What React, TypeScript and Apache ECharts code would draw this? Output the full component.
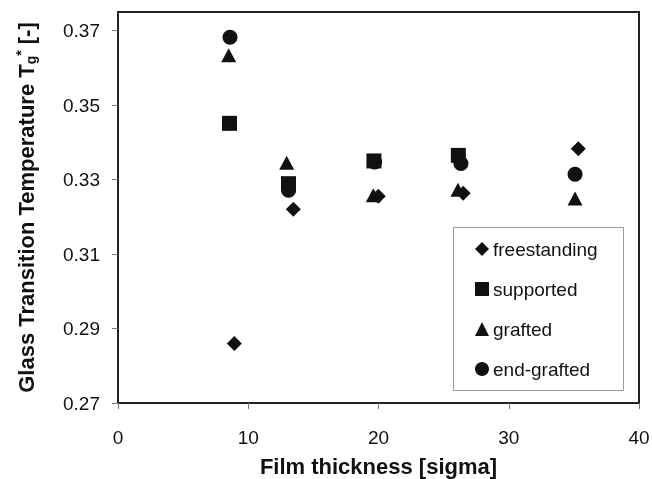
import React, { useEffect, useRef } from "react";
import * as echarts from "echarts";

const freestandingX = [8.93, 13.46, 19.98, 26.5, 35.34];
const freestandingY = [0.286, 0.322, 0.3255, 0.3263, 0.3383];
const supportedX = [8.56, 13.09, 19.65, 26.13];
const supportedY = [0.3451, 0.3289, 0.335, 0.3365];
const graftedX = [8.5, 12.95, 19.6, 26.1, 35.09];
const graftedY = [0.3634, 0.3345, 0.3258, 0.3273, 0.3249];
const endGraftedX = [8.6, 13.1, 19.7, 26.33, 35.09];
const endGraftedY = [0.3682, 0.3271, 0.3347, 0.3343, 0.3314];
const yTicks = [0.27, 0.29, 0.31, 0.33, 0.35, 0.37];
const xTicks = [0, 10, 20, 30, 40];

const zip = (xs: number[], ys: number[]) => xs.map((x, i) => [x, ys[i]]);

export default function App() {
  const ref = useRef<HTMLDivElement>(null);
  useEffect(() => {
    const chart = echarts.init(ref.current!, null, { renderer: "svg" });
    const font = "Arial, 'Liberation Sans', sans-serif";
    const mk = (name: string, symbol: string, size: any, xs: number[], ys: number[]) => ({
      name,
      type: "scatter",
      symbol,
      symbolSize: size,
      itemStyle: { color: "#111", opacity: 1 },
      data: zip(xs, ys),
    });
    chart.setOption({
      animation: false,
      textStyle: { fontFamily: font },
      grid: {
        left: 118,
        right: 13,
        top: 12,
        bottom: 76,
        show: true,
        borderColor: "#222",
        borderWidth: 2,
        outerBoundsMode: "none",
        containLabel: false,
      },
      xAxis: {
        type: "value",
        min: 0,
        max: 40,
        interval: 10,
        name: "Film thickness [sigma]",
        nameLocation: "middle",
        nameGap: 52,
        nameTextStyle: { fontFamily: font, fontSize: 22, fontWeight: "bold", color: "#111" },
        axisLine: { show: true, lineStyle: { color: "#222", width: 2 } },
        axisTick: { show: true, inside: false, length: 6, lineStyle: { color: "#777" }, customValues: xTicks },
        axisLabel: { fontFamily: font, fontSize: 19, color: "#111", margin: 25, customValues: xTicks },
        splitLine: { show: false },
      },
      yAxis: {
        type: "value",
        min: 0.27,
        max: 0.375,
        name: "Glass Transition Temperature T{sub|g}{sup|*} [-]",
        nameLocation: "middle",
        nameGap: 80,
        nameTextStyle: {
          fontFamily: font,
          fontSize: 22,
          fontWeight: "bold",
          color: "#111",
          lineHeight: 24,
          rich: {
            sub: { fontFamily: font, fontSize: 14, fontWeight: "bold", color: "#111", verticalAlign: "bottom", lineHeight: 14 },
            sup: { fontFamily: font, fontSize: 14, fontWeight: "bold", color: "#111", verticalAlign: "top", lineHeight: 14 },
          },
        },
        axisLine: { show: true, lineStyle: { color: "#222", width: 2 } },
        axisTick: { show: true, inside: false, length: 6, lineStyle: { color: "#777" }, customValues: yTicks },
        axisLabel: {
          fontFamily: font,
          fontSize: 19,
          color: "#111",
          margin: 18,
          customValues: yTicks,
          formatter: (v: number) => v.toFixed(2),
        },
        splitLine: { show: false },
      },
      legend: {
        orient: "vertical",
        left: 475,
        top: 239,
        itemWidth: 14,
        itemHeight: 14,
        itemGap: 20,
        padding: 0,
        textStyle: { fontFamily: font, fontSize: 19, color: "#111", lineHeight: 20, padding: [0, 0, 0, -1] },
        data: ["freestanding", "supported", "grafted", "end-grafted"],
      },
      graphic: [
        {
          type: "rect",
          left: 453,
          top: 227,
          shape: { width: 170, height: 163 },
          style: { fill: "#fff", stroke: "#999", lineWidth: 1 },
          z: 0,
          silent: true,
        },
      ],
      series: [
        mk("freestanding", "diamond", 15, freestandingX, freestandingY),
        mk("supported", "rect", 15, supportedX, supportedY),
        mk("grafted", "triangle", [15, 14], graftedX, graftedY),
        mk("end-grafted", "circle", 15, endGraftedX, endGraftedY),
      ],
    });
    return () => chart.dispose();
  }, []);
  return <div ref={ref} style={{ position: "fixed", left: 0, top: 0, width: 652, height: 479 }} />;
}
